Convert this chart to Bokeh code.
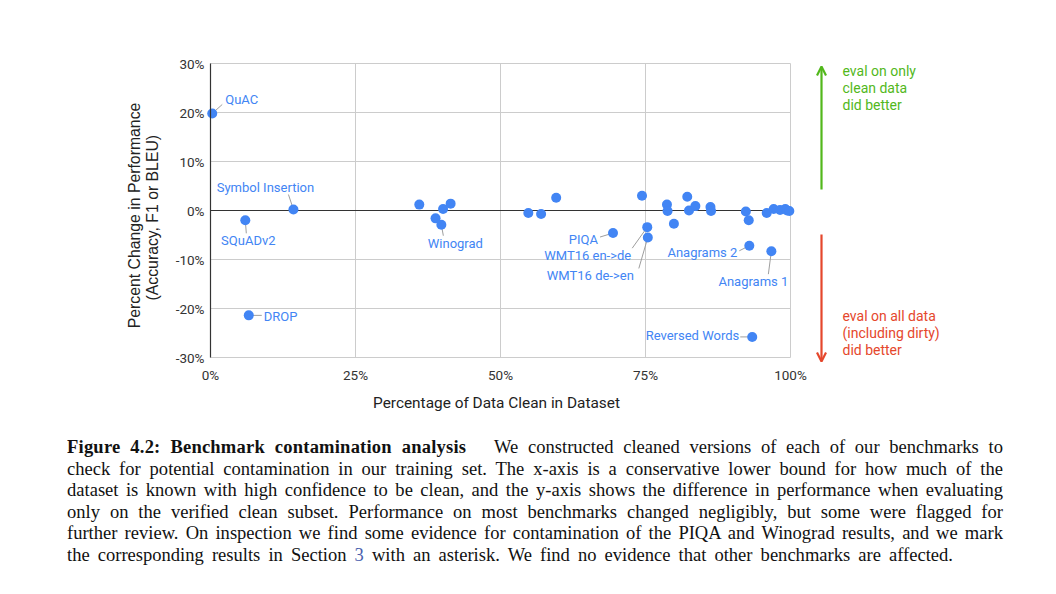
from bokeh.plotting import figure
from bokeh.models import Range1d, FixedTicker, Label, Arrow, OpenHead, Div, ColumnDataSource
from bokeh.layouts import column
from bokeh.embed import file_html
from bokeh.resources import INLINE

# ---------------- data ----------------
bench_names = ["QuAC", "SQuADv2", "DROP", "Symbol Insertion", "", "", "Winograd", "", "",
               "", "", "", "PIQA", "", "WMT16 en->de", "WMT16 de->en", "", "", "",
               "", "", "", "", "", "", "", "Anagrams 2", "Reversed Words", "", "Anagrams 1",
               "", "", "", "", ""]
clean_pct = [0.3, 6.0, 6.6, 14.3, 36.0, 38.8, 39.8, 40.1, 41.4,
             54.8, 57.0, 59.6, 69.4, 74.4, 75.3, 75.4, 78.7, 78.8, 79.9,
             82.2, 82.5, 83.6, 86.2, 86.3, 92.3, 92.8, 92.9, 93.4, 95.9, 96.7,
             97.1, 98.2, 99.1, 99.4, 99.8]
perf_change = [19.8, -2.0, -21.4, 0.2, 1.2, -1.6, -2.9, 0.3, 1.4,
               -0.5, -0.7, 2.6, -4.6, 3.0, -3.4, -5.5, 1.2, -0.1, -2.7,
               2.8, 0.0, 0.9, 0.7, -0.1, -0.2, -2.0, -7.2, -25.8, -0.5, -8.3,
               0.3, 0.1, 0.3, 0.0, -0.1]

x_ticks = [0, 25, 50, 75, 100]
x_tick_labels = ["0%", "25%", "50%", "75%", "100%"]
y_ticks = [-30, -20, -10, 0, 10, 20, 30]
y_tick_labels = ["-30%", "-20%", "-10%", "0%", "10%", "20%", "30%"]

x_title = "Percentage of Data Clean in Dataset"
y_title = ["Percent Change in Performance", "(Accuracy,  F1 or BLEU)"]
up_note = ["eval on only", "clean data", "did better"]
down_note = ["eval on all data", "(including dirty)", "did better"]

caption_title = "Figure 4.2: Benchmark contamination analysis"
caption_lines = [
    "We constructed cleaned versions of each of our benchmarks to",
    "check for potential contamination in our training set. The x-axis is a conservative lower bound for how much of the",
    "dataset is known with high confidence to be clean, and the y-axis shows the difference in performance when evaluating",
    "only on the verified clean subset. Performance on most benchmarks changed negligibly, but some were flagged for",
    "further review. On inspection we find some evidence for contamination of the PIQA and Winograd results, and we mark",
    "the corresponding results in Section <span style='color:#4a5fae'>3</span> with an asterisk. We find no evidence that other benchmarks are affected.",
]

# label placement: (dx, dy, align, leader_dx, leader_dy) in screen px, dy downwards
label_style = {
    "QuAC": (13, -14, "left", 10, -9),
    "Symbol Insertion": (-28, -22, "center", -5, -15),
    "SQuADv2": (3, 20, "center", 1, 13),
    "DROP": (15, 1, "left", 13, 0),
    "Winograd": (14, 19, "center", 2, 11),
    "PIQA": (-15, 6, "right", -13, 4),
    "WMT16 en->de": (-16, 28, "right", -15, 21),
    "WMT16 de->en": (-14, 38, "right", -9, 31),
    "Anagrams 2": (-12, 7, "right", -10, 5),
    "Anagrams 1": (-18, 30, "center", -3, 23),
    "Reversed Words": (-13, -1, "right", -12, 0),
}

# ---------------- layout ----------------
W, H = 1040, 428
FL, FT, FW, FH = 210, 63, 580, 294   # chart area (0..100 x -30..30) in canvas px
XMIN, XMAX, YMIN, YMAX = 0, 100, -30, 30
PX_PER_X = FW / (XMAX - XMIN)
PX_PER_Y = FH / (YMAX - YMIN)

def xd(cx):  # canvas px -> data x
    return XMIN + (cx - FL) / PX_PER_X

def yd(cy):  # canvas px (downwards) -> data y
    return YMAX - (cy - FT) / PX_PER_Y

BLUE = "#4285F4"
FONT = "Roboto"

# the frame fills the whole canvas; axes are pinned at the chart's edges
p = figure(width=W, height=H, output_backend="svg", toolbar_location=None,
           x_range=Range1d(xd(0), xd(W)), y_range=Range1d(yd(H), yd(0)),
           min_border=0)
p.outline_line_color = None
p.background_fill_color = "white"
p.border_fill_color = "white"
p.xgrid.grid_line_color = None
p.ygrid.grid_line_color = None

p.xaxis.fixed_location = YMIN
p.yaxis.fixed_location = XMIN
p.xaxis.bounds = (XMIN, XMAX)
p.yaxis.bounds = (YMIN, YMAX)
p.xaxis.ticker = FixedTicker(ticks=x_ticks)
p.yaxis.ticker = FixedTicker(ticks=y_ticks)
p.xaxis.major_label_overrides = dict(zip(x_ticks, x_tick_labels))
p.yaxis.major_label_overrides = dict(zip(y_ticks, y_tick_labels))
for ax in (p.xaxis, p.yaxis):
    ax.major_tick_line_color = None
    ax.minor_tick_line_color = None
    ax.major_tick_out = 0
    ax.major_tick_in = 0
    ax.minor_tick_out = 0
    ax.minor_tick_in = 0
    ax.major_label_text_font = FONT
    ax.major_label_text_font_size = "13.5px"
    ax.major_label_text_color = "#333333"
p.xaxis.axis_line_color = None
p.yaxis.axis_line_color = "#333333"
p.yaxis.axis_line_width = 1.2
p.xaxis.major_label_standoff = 9
p.yaxis.major_label_standoff = 6

# grid lines limited to the chart area, taken from the tick lists
p.segment(x0=x_ticks, y0=[YMIN] * len(x_ticks), x1=x_ticks, y1=[YMAX] * len(x_ticks),
          line_color="#cccccc", line_width=1)
p.segment(x0=[XMIN] * len(y_ticks), y0=y_ticks, x1=[XMAX] * len(y_ticks), y1=y_ticks,
          line_color="#cccccc", line_width=1)
p.segment(x0=[XMIN], y0=[0], x1=[XMAX], y1=[0], line_color="#333333", line_width=1.2)

# leader lines and point labels
seg = dict(x0=[], y0=[], x1=[], y1=[])
for name, cx, cy in zip(bench_names, clean_pct, perf_change):
    if name in label_style:
        dx, dy, align, ldx, ldy = label_style[name]
        seg["x0"].append(cx)
        seg["y0"].append(cy)
        seg["x1"].append(cx + ldx / PX_PER_X)
        seg["y1"].append(cy - ldy / PX_PER_Y)
        p.add_layout(Label(x=cx + dx / PX_PER_X, y=cy - dy / PX_PER_Y, text=name,
                           text_align=align, text_baseline="middle",
                           text_font=FONT, text_font_size="13px", text_color=BLUE))
p.segment("x0", "y0", "x1", "y1", source=ColumnDataSource(seg), line_color="#9e9e9e", line_width=1)

p.scatter(clean_pct, perf_change, size=10, fill_color=BLUE, line_color=None)

# axis titles
p.add_layout(Label(x=xd(496), y=yd(402), text=x_title, text_align="center",
                   text_baseline="middle", text_font=FONT, text_font_size="15.4px",
                   text_color="#222222"))
for i, t in enumerate(y_title):
    p.add_layout(Label(x=xd(134 + 18 * i), y=yd(215), text=t, angle=90, angle_units="deg",
                       text_align="center", text_baseline="middle",
                       text_font="Liberation Sans", text_font_size="15.8px",
                       text_color="#222222"))

# right side arrows and notes
GREEN, RED = "#52b81c", "#e5472c"
AX = 821
p.add_layout(Arrow(x_start=xd(AX), y_start=yd(189), x_end=xd(AX), y_end=yd(66),
                   line_color=GREEN, line_width=2.2,
                   end=OpenHead(size=9, line_color=GREEN, line_width=2.2)))
p.add_layout(Arrow(x_start=xd(AX), y_start=yd(234), x_end=xd(AX), y_end=yd(361),
                   line_color=RED, line_width=2.2,
                   end=OpenHead(size=9, line_color=RED, line_width=2.2)))
for i, t in enumerate(up_note):
    p.add_layout(Label(x=xd(842), y=yd(70 + 17.2 * i), text=t, text_baseline="middle",
                       text_font=FONT, text_font_size="14px", text_color=GREEN))
for i, t in enumerate(down_note):
    p.add_layout(Label(x=xd(842), y=yd(315 + 17.2 * i), text=t, text_baseline="middle",
                       text_font=FONT, text_font_size="14px", text_color=RED))

# caption (each line justified to the reference's line length, slightly widened)
STRETCH = 1.03
line_css = "text-align:justify;text-align-last:justify;word-spacing:-1px;"
full_w = 936 / STRETCH
last_w = 886 / STRETCH
rows = []
first = ("<b style='letter-spacing:0.2px'>" + caption_title
         + "</b><span style='display:inline-block;width:27px'></span>" + caption_lines[0])
rows.append("<div style='%swidth:%.1fpx;'>%s</div>" % (line_css, full_w, first))
for ln in caption_lines[1:-1]:
    rows.append("<div style='%swidth:%.1fpx;'>%s</div>" % (line_css, full_w, ln))
rows.append("<div style='%swidth:%.1fpx;'>%s</div>" % (line_css, last_w, caption_lines[-1]))
html = ("<div style=\"font-family:'Liberation Serif','Times New Roman',serif;font-size:18px;"
        "line-height:21.6px;color:#111111;width:%.1fpx;transform:scaleX(%.3f);"
        "transform-origin:0 0;\">" % (full_w, STRETCH) + "".join(rows) + "</div>")
cap = Div(text=html, width=936, height=132, margin=(9, 0, 0, 67))

layout = column(p, cap, spacing=0)
open("out.html", "w").write(file_html(layout, INLINE))
